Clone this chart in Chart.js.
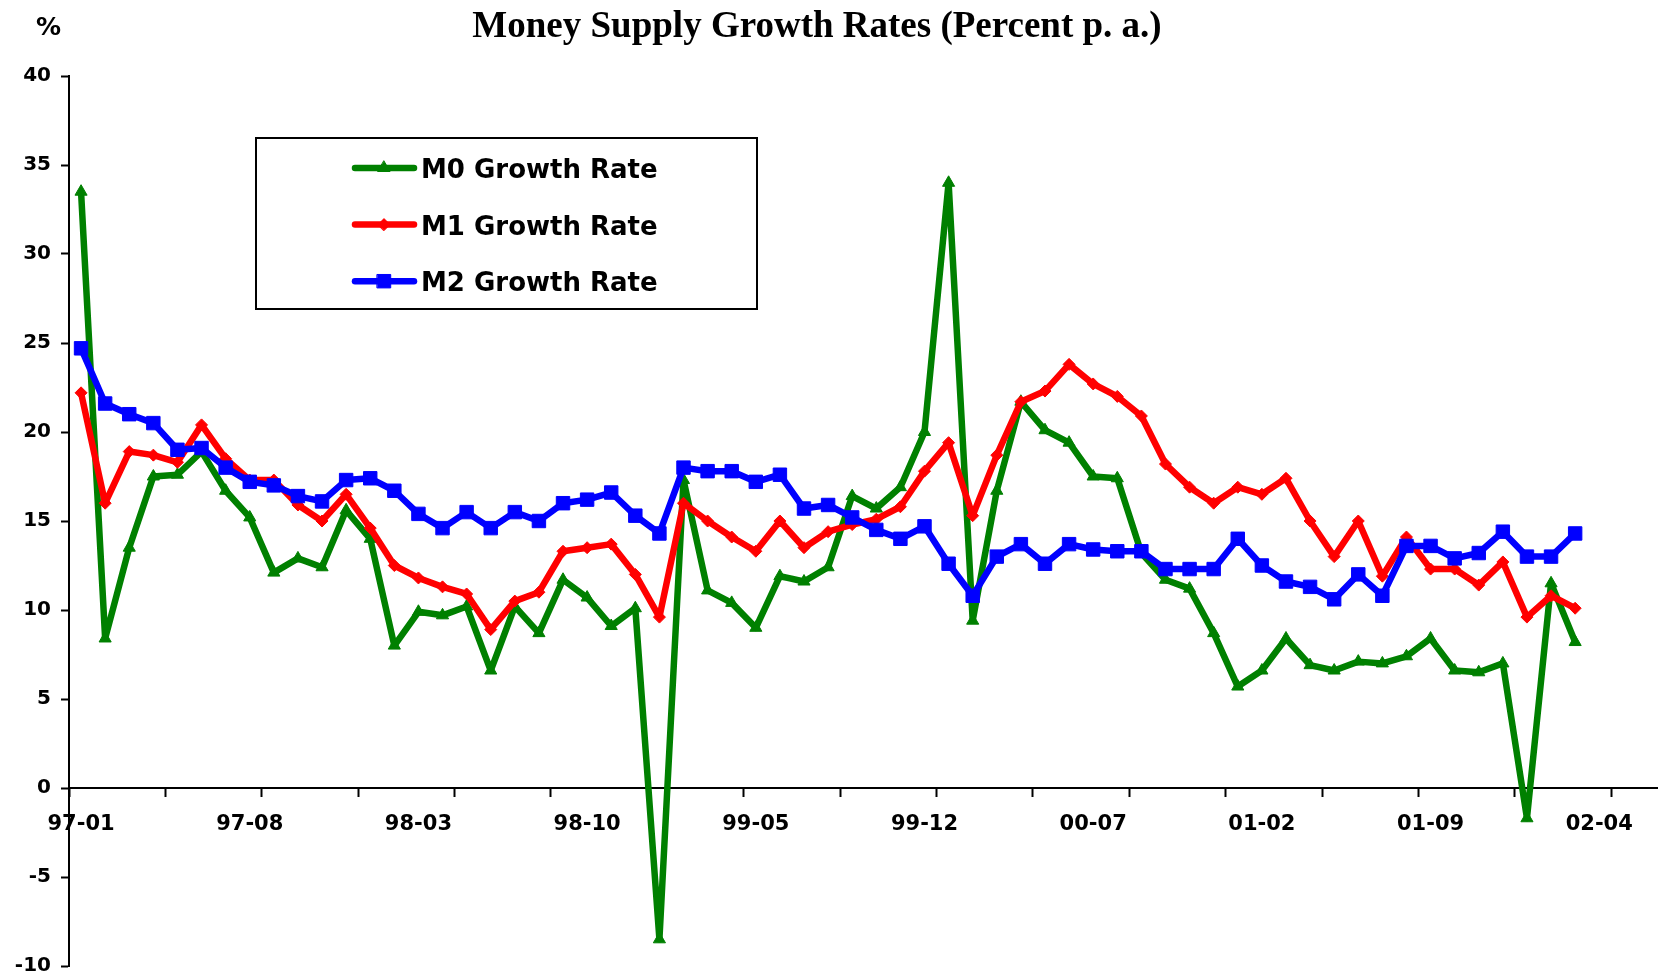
<!DOCTYPE html>
<html>
<head>
<meta charset="utf-8">
<title>Money Supply Growth Rates</title>
<script src="https://cdn.jsdelivr.net/npm/chart.js@4.4.1/dist/chart.umd.min.js"></script>
<style>
  html, body { margin: 0; padding: 0; background: #fff; overflow: hidden; }
  /* a bit wider than the window: the axis runs off the right edge like in the original */
  #wrap { width: 1670px; height: 979px; position: relative; }
</style>
</head>
<body>
<div id="wrap"><canvas id="grafico"></canvas></div>
<script>
// months on the category axis (data stops at 02-03)
var months = [
  '97-01','97-02','97-03','97-04','97-05','97-06','97-07','97-08','97-09','97-10','97-11','97-12',
  '98-01','98-02','98-03','98-04','98-05','98-06','98-07','98-08','98-09','98-10','98-11','98-12',
  '99-01','99-02','99-03','99-04','99-05','99-06','99-07','99-08','99-09','99-10','99-11','99-12',
  '00-01','00-02','00-03','00-04','00-05','00-06','00-07','00-08','00-09','00-10','00-11','00-12',
  '01-01','01-02','01-03','01-04','01-05','01-06','01-07','01-08','01-09','01-10','01-11','01-12',
  '02-01','02-02','02-03','02-04','02-05','02-06'
];

// M0 growth rate, % p.a.
var m0 = [33.5, 8.4, 13.5, 17.5, 17.6, 18.9, 16.7, 15.2, 12.1, 12.9, 12.4, 15.6,
          14.0, 8.0, 9.9, 9.7, 10.2, 6.6, 10.2, 8.7, 11.7, 10.7, 9.1, 10.1,
          -8.5, 17.3, 11.1, 10.4, 9.0, 11.9, 11.6, 12.4, 16.4, 15.7, 16.9, 20.0,
          34.0, 9.4, 16.7, 21.7, 20.1, 19.4, 17.5, 17.4, 13.2, 11.7, 11.2, 8.7,
          5.7, 6.6, 8.4, 6.9, 6.6, 7.1, 7.0, 7.4, 8.4, 6.6, 6.5, 7.0,
          -1.7, 11.5, 8.2];

// M1 growth rate, % p.a.
var m1 = [22.2, 16.0, 18.9, 18.7, 18.3, 20.4, 18.5, 17.3, 17.3, 15.9, 15.0, 16.5,
          14.6, 12.5, 11.8, 11.3, 10.9, 8.9, 10.5, 11.0, 13.3, 13.5, 13.7, 12.0,
          9.6, 16.0, 15.0, 14.1, 13.3, 15.0, 13.5, 14.4, 14.8, 15.1, 15.8, 17.8,
          19.4, 15.3, 18.7, 21.7, 22.3, 23.8, 22.7, 22.0, 20.9, 18.2, 16.9, 16.0,
          16.9, 16.5, 17.4, 15.0, 13.0, 15.0, 11.9, 14.1, 12.3, 12.3, 11.4, 12.7,
          9.6, 10.8, 10.1];

// M2 growth rate, % p.a.
var m2 = [24.7, 21.6, 21.0, 20.5, 19.0, 19.1, 18.0, 17.2, 17.0, 16.4, 16.1, 17.3,
          17.4, 16.7, 15.4, 14.6, 15.5, 14.6, 15.5, 15.0, 16.0, 16.2, 16.6, 15.3,
          14.3, 18.0, 17.8, 17.8, 17.2, 17.6, 15.7, 15.9, 15.2, 14.5, 14.0, 14.7,
          12.6, 10.8, 13.0, 13.7, 12.6, 13.7, 13.4, 13.3, 13.3, 12.3, 12.3, 12.3,
          14.0, 12.5, 11.6, 11.3, 10.6, 12.0, 10.8, 13.6, 13.6, 12.9, 13.2, 14.4,
          13.0, 13.0, 14.3];

var yTicks = [-10, -5, 0, 5, 10, 15, 20, 25, 30, 35, 40];

var titleText = 'Money Supply Growth Rates (Percent p. a.)';
var sourceText = 'Lawrence J. Lau, Stanford University';

// title, % sign, cut-off source line and the framed legend
var extras = {
  id: 'extras',
  afterDraw: function (chart) {
    var ctx = chart.ctx;
    ctx.save();
    ctx.fillStyle = '#000';
    ctx.textBaseline = 'alphabetic';
    ctx.textAlign = 'center';
    ctx.font = 'bold 37px "Liberation Serif"';
    ctx.fillText(titleText, 817, 37);

    ctx.textAlign = 'left';
    ctx.font = 'bold 25px "DejaVu Sans"';
    ctx.fillText('%', 36, 35);

    ctx.fillStyle = '#222';
    ctx.font = 'bold 30px "Liberation Serif"';
    ctx.fillText(sourceText, 528, 1000);

    // legend box
    ctx.fillStyle = '#fff';
    ctx.fillRect(256, 138, 501, 171);
    ctx.strokeStyle = '#000';
    ctx.lineWidth = 2;
    ctx.strokeRect(256, 138, 501, 171);

    chart.data.datasets.forEach(function (ds, i) {
      var y = 168 + i * 56.6;
      ctx.strokeStyle = ds.borderColor;
      ctx.fillStyle = ds.borderColor;
      ctx.lineWidth = 6.5;
      ctx.lineCap = 'round';
      ctx.beginPath();
      ctx.moveTo(355, y);
      ctx.lineTo(414, y);
      ctx.stroke();
      ctx.lineWidth = 1;
      Chart.helpers.drawPoint(ctx, { pointStyle: ds.pointStyle, radius: ds.pointRadius, borderWidth: 1, rotation: 0 }, 384, y);
      ctx.fillStyle = '#000';
      ctx.font = 'bold 26px "DejaVu Sans"';
      ctx.fillText(ds.label, 421, y + 10);
    });
    ctx.restore();
  }
};

var ctx = document.querySelector('#grafico').getContext('2d');
var lineChart = new Chart(ctx, {
  type: 'line',
  data: {
    labels: months,
    datasets: [
      {
        label: 'M0 Growth Rate',
        data: m0,
        borderColor: '#008000',
        backgroundColor: '#008000',
        pointStyle: 'triangle',
        pointRadius: 7,
        order: 3
      },
      {
        label: 'M1 Growth Rate',
        data: m1,
        borderColor: '#ff0000',
        backgroundColor: '#ff0000',
        pointStyle: 'rectRot',
        pointRadius: 6,
        order: 2
      },
      {
        label: 'M2 Growth Rate',
        data: m2,
        borderColor: '#0000ff',
        backgroundColor: '#0000ff',
        pointStyle: 'rect',
        pointRadius: 9.5,
        order: 1
      }
    ]
  },
  options: {
    responsive: true,
    maintainAspectRatio: false,
    animation: false,
    layout: { padding: { top: 76, right: 2, bottom: 13, left: 0 } },
    elements: {
      line: { borderWidth: 6.5, tension: 0, borderJoinStyle: 'round', borderCapStyle: 'round', fill: false },
      point: { borderWidth: 1, hoverRadius: 7 }
    },
    plugins: {
      legend: { display: false },
      title: { display: false },
      tooltip: { enabled: false }
    },
    scales: {
      x: {
        type: 'category',
        position: { y: 0 },
        offset: true,
        grid: {
          offset: true,
          drawOnChartArea: false,
          tickLength: 8,
          tickWidth: 2,
          tickColor: function (c) { return c.index % 4 === 0 ? '#000' : 'rgba(0,0,0,0)'; }
        },
        border: { display: true, color: '#000', width: 2 },
        ticks: {
          autoSkip: false,
          maxRotation: 0,
          minRotation: 0,
          padding: 16,
          color: '#000',
          font: { family: '"DejaVu Sans"', size: 21, weight: 'bold' },
          callback: function (v, i) { return i % 7 === 0 ? months[i] : ''; }
        },
        afterFit: function (s) { s.height = 0; }
      },
      y: {
        min: yTicks[0],
        max: yTicks[yTicks.length - 1],
        ticks: { stepSize: 5, padding: 10, color: '#000', font: { family: '"DejaVu Sans"', size: 20, weight: 'bold' } },
        grid: { drawOnChartArea: false, tickLength: 8, tickWidth: 2, tickColor: '#000' },
        border: { display: true, color: '#000', width: 2 },
        afterFit: function (s) { s.width = 69; s.paddingTop = 0; s.paddingBottom = 0; }
      }
    }
  },
  plugins: [extras]
});
</script>
</body>
</html>
